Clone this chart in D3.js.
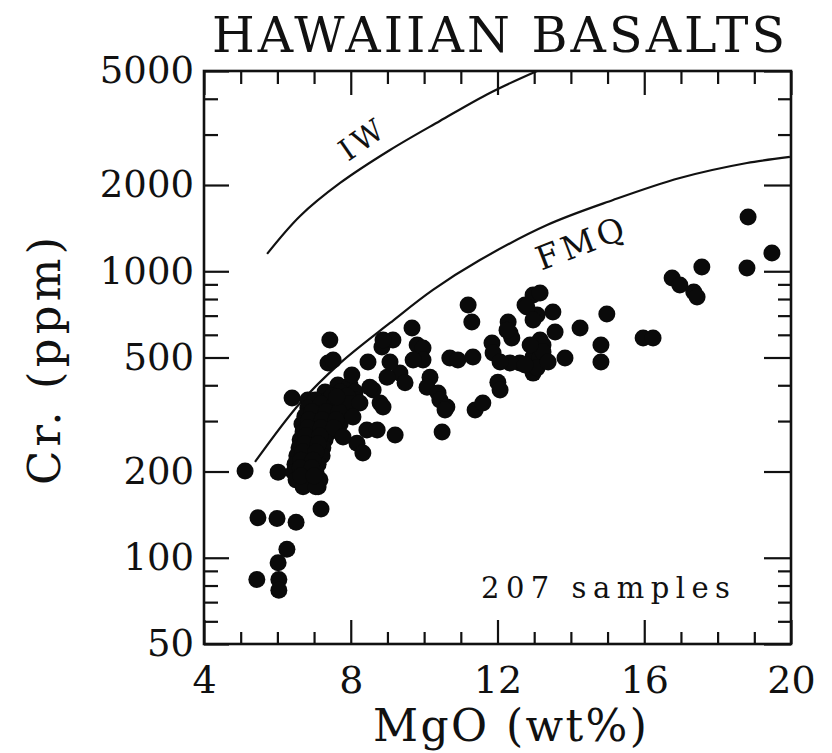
<!DOCTYPE html>
<html>
<head>
<meta charset="utf-8">
<script src="https://cdn.jsdelivr.net/npm/d3@7"></script>
<style>
  html, body { margin: 0; padding: 0; background: #fff; }
  svg { display: block; }
  text { font-family: "DejaVu Serif", serif; fill: #111; }
</style>
</head>
<body>
<svg id="chart" width="832" height="753"></svg>
<script>
// MgO (wt%) and Cr (ppm) of the basalt samples
const mgo = [
  5.12, 6.02, 5.47, 5.99, 6.51, 7.19, 7.11, 6.26, 6.02, 5.44, 6.04, 6.04,
  6.40, 6.83, 7.38, 7.43,
  7.65, 7.98,
  7.30, 7.71, 8.12,
  7.03, 7.38, 7.76, 8.14,
  6.83, 7.16, 7.52, 7.87,
  6.75, 7.11, 7.43, 7.79,
  6.67, 7.00, 7.35, 7.71,
  6.70, 7.05, 7.43,
  6.62, 6.94, 7.30,
  6.59, 6.92, 7.24,
  6.53, 6.89, 7.22,
  6.48, 6.81, 7.11,
  6.45, 6.75, 7.05,
  6.51, 6.86, 7.16,
  6.70, 7.05,
  7.49, 7.90,
  7.19, 7.57, 7.98,
  6.94, 7.33, 7.68,
  6.86, 7.22, 7.60,
  6.83, 7.19, 7.54,
  6.78, 7.16,
  6.75, 7.11,
  6.70, 7.05,
  6.64, 6.97,
  6.62, 6.94,
  6.64, 7.00,
  8.03, 8.47, 8.85, 9.15, 8.88, 9.67, 9.81, 9.97, 9.97, 10.16, 10.08, 10.38,
  10.43, 10.62, 10.57, 10.49, 9.21, 9.34, 9.70, 8.99, 8.61, 8.52, 8.80, 8.88,
  8.25, 8.06, 8.44, 8.72, 8.17, 8.33, 7.79, 7.62, 7.52, 10.70, 10.92, 11.33,
  11.20, 11.30, 11.39, 11.60, 9.07, 9.48,
  11.85, 11.88, 12.01, 12.07, 12.29, 12.34, 12.39, 12.61, 12.34, 12.07, 12.75,
  12.97, 13.16, 13.08, 13.51, 13.57, 13.16, 13.08, 13.24, 12.97, 13.16, 13.24,
  12.97, 13.08, 13.84, 14.25, 12.75, 13.38, 12.89, 12.80, 12.97, 12.26,
  14.82, 14.82, 14.98, 15.97, 16.24, 16.76, 16.97, 17.35, 17.44, 17.57, 18.80,
  18.83, 19.48
];
const cr = [
  201, 199, 138, 137, 133, 148, 177, 107, 96, 84, 84, 77,
  361, 355, 478, 576,
  401, 401,
  379, 379, 379,
  355, 355, 355, 355,
  333, 333, 333, 333,
  312, 312, 312, 312,
  293, 293, 293, 293,
  275, 275, 275,
  258, 258, 258,
  242, 242, 242,
  227, 227, 227,
  212, 212, 212,
  199, 199, 199,
  187, 187, 187,
  177, 177,
  367, 367,
  344, 344, 344,
  323, 323, 323,
  303, 303, 303,
  284, 284, 284,
  266, 266,
  250, 250,
  234, 234,
  219, 219,
  206, 206,
  193, 193,
  434, 482, 544, 576, 576, 634, 553, 540, 490, 427, 394, 376,
  355, 336, 328, 275, 268, 441, 490, 427, 385, 394, 347, 336,
  347, 310, 279, 279, 251, 232, 264, 364, 490, 498, 490, 502,
  763, 665, 328, 347, 482, 408,
  562, 518, 410, 385, 665, 609, 585, 478, 478, 482, 763,
  826, 840, 704, 721, 614, 576, 540, 553, 502, 498, 523,
  441, 460, 498, 634, 471, 482, 553, 751, 676, 623,
  553, 482, 709, 585, 585, 947, 895, 847, 813, 1035, 1026,
  1547, 1158
];

// Oxygen-buffer reference curves
const iwMgo = [5.72, 6.62, 7.71, 9.07, 10.43, 11.79, 13.08];
const iwCr  = [1150, 1559, 2033, 2650, 3346, 4191, 5000];
const fmqMgo = [5.39, 6.62, 7.71, 9.07, 10.24, 11.52, 13.35, 15.15, 16.97, 18.80, 19.97];
const fmqCr  = [216, 347, 478, 660, 861, 1094, 1450, 1773, 2116, 2387, 2506];

// Axis ticks
const xMajor = [4, 8, 12, 16, 20];
const xMinor = [5, 6, 7, 9, 10, 11, 13, 14, 15, 17, 18, 19];
const yMajor = [50, 100, 200, 500, 1000, 2000, 5000];
const yMinor = [60, 70, 80, 90, 300, 400, 600, 700, 800, 900, 3000, 4000];

const title = "HAWAIIAN BASALTS";
const xTitle = "MgO (wt%)";
const yTitle = "Cr. (ppm)";
const note = "207 samples";

const svg = d3.select("#chart");
const plotL = 204, plotR = 791, plotT = 71, plotB = 644;

const x = d3.scaleLinear().domain([4, 20]).range([plotL, plotR]);
const y = d3.scaleLog().domain([50, 5000]).range([plotB, plotT]);

const fmt = d3.format("d");

function styleAxis(g) {
  g.select(".domain").remove();
  g.selectAll("line").attr("stroke", "#111").attr("stroke-width", 2.2);
  g.selectAll("text").attr("font-family", "DejaVu Serif, serif").attr("fill", "#111");
}

// bottom axis
svg.append("g").attr("transform", `translate(0,${plotB})`)
  .call(d3.axisBottom(x).tickValues(xMajor).tickSizeInner(-24).tickSizeOuter(0)
        .tickPadding(22).tickFormat(fmt))
  .call(styleAxis)
  .call(g => g.selectAll("text").attr("font-size", 38));
svg.append("g").attr("transform", `translate(0,${plotB})`)
  .call(d3.axisBottom(x).tickValues(xMinor).tickSizeInner(-12).tickSizeOuter(0).tickFormat(""))
  .call(styleAxis);

// top axis
svg.append("g").attr("transform", `translate(0,${plotT})`)
  .call(d3.axisTop(x).tickValues(xMajor).tickSizeInner(-24).tickSizeOuter(0).tickFormat(""))
  .call(styleAxis);
svg.append("g").attr("transform", `translate(0,${plotT})`)
  .call(d3.axisTop(x).tickValues(xMinor).tickSizeInner(-13).tickSizeOuter(0).tickFormat(""))
  .call(styleAxis);

// left axis
svg.append("g").attr("transform", `translate(${plotL},0)`)
  .call(d3.axisLeft(y).tickValues(yMajor).tickSizeInner(-25).tickSizeOuter(0)
        .tickPadding(10).tickFormat(fmt))
  .call(styleAxis)
  .call(g => g.selectAll("text").attr("font-size", 37));
svg.append("g").attr("transform", `translate(${plotL},0)`)
  .call(d3.axisLeft(y).tickValues(yMinor).tickSizeInner(-14).tickSizeOuter(0).tickFormat(""))
  .call(styleAxis);

// right axis
svg.append("g").attr("transform", `translate(${plotR},0)`)
  .call(d3.axisRight(y).tickValues(yMajor).tickSizeInner(-27).tickSizeOuter(0).tickFormat(""))
  .call(styleAxis);
svg.append("g").attr("transform", `translate(${plotR},0)`)
  .call(d3.axisRight(y).tickValues(yMinor).tickSizeInner(-13).tickSizeOuter(0).tickFormat(""))
  .call(styleAxis);

// frame
svg.append("rect")
  .attr("x", plotL).attr("y", plotT)
  .attr("width", plotR - plotL).attr("height", plotB - plotT)
  .attr("fill", "none").attr("stroke", "#111").attr("stroke-width", 2.6);

// buffer curves
svg.append("clipPath").attr("id", "plot")
  .append("rect").attr("x", plotL).attr("y", plotT)
  .attr("width", plotR - plotL).attr("height", plotB - plotT);

const line = d3.line().x(d => x(d[0])).y(d => y(d[1])).curve(d3.curveCatmullRom.alpha(0.5));

svg.append("path")
  .datum(iwMgo.map((m, i) => [m, iwCr[i]]))
  .attr("d", line).attr("fill", "none").attr("stroke", "#111").attr("stroke-width", 2.2)
  .attr("clip-path", "url(#plot)");
svg.append("path")
  .datum(fmqMgo.map((m, i) => [m, fmqCr[i]]))
  .attr("d", line).attr("fill", "none").attr("stroke", "#111").attr("stroke-width", 2.2)
  .attr("clip-path", "url(#plot)");

// curve labels
svg.append("text")
  .attr("transform", `translate(${x(8.33)},${y(2900)}) rotate(-35)`)
  .attr("text-anchor", "middle").attr("dominant-baseline", "central")
  .attr("font-size", 30).attr("letter-spacing", 4)
  .text("IW");
svg.append("text")
  .attr("transform", `translate(${x(14.3)},${y(1256)}) rotate(-21)`)
  .attr("text-anchor", "middle").attr("dominant-baseline", "central")
  .attr("font-size", 33).attr("letter-spacing", 4)
  .text("FMQ");

// samples
svg.append("g").selectAll("circle")
  .data(mgo.map((m, i) => [m, cr[i]]))
  .join("circle")
  .attr("cx", d => x(d[0])).attr("cy", d => y(d[1]))
  .attr("r", 8.5).attr("fill", "#0a0a0a");

// texts
svg.append("text")
  .attr("x", 212).attr("y", 52)
  .attr("font-size", 49).attr("textLength", 573).attr("lengthAdjust", "spacing")
  .text(title);

svg.append("text")
  .attr("x", 373).attr("y", 741)
  .attr("font-size", 44).attr("textLength", 274).attr("lengthAdjust", "spacing")
  .text(xTitle);

svg.append("text")
  .attr("transform", "translate(60,485) rotate(-90)")
  .attr("font-size", 45).attr("textLength", 248).attr("lengthAdjust", "spacing")
  .text(yTitle);

svg.append("text")
  .attr("x", 481).attr("y", 598)
  .attr("font-size", 29).attr("textLength", 249).attr("lengthAdjust", "spacing")
  .text(note);
</script>
</body>
</html>
